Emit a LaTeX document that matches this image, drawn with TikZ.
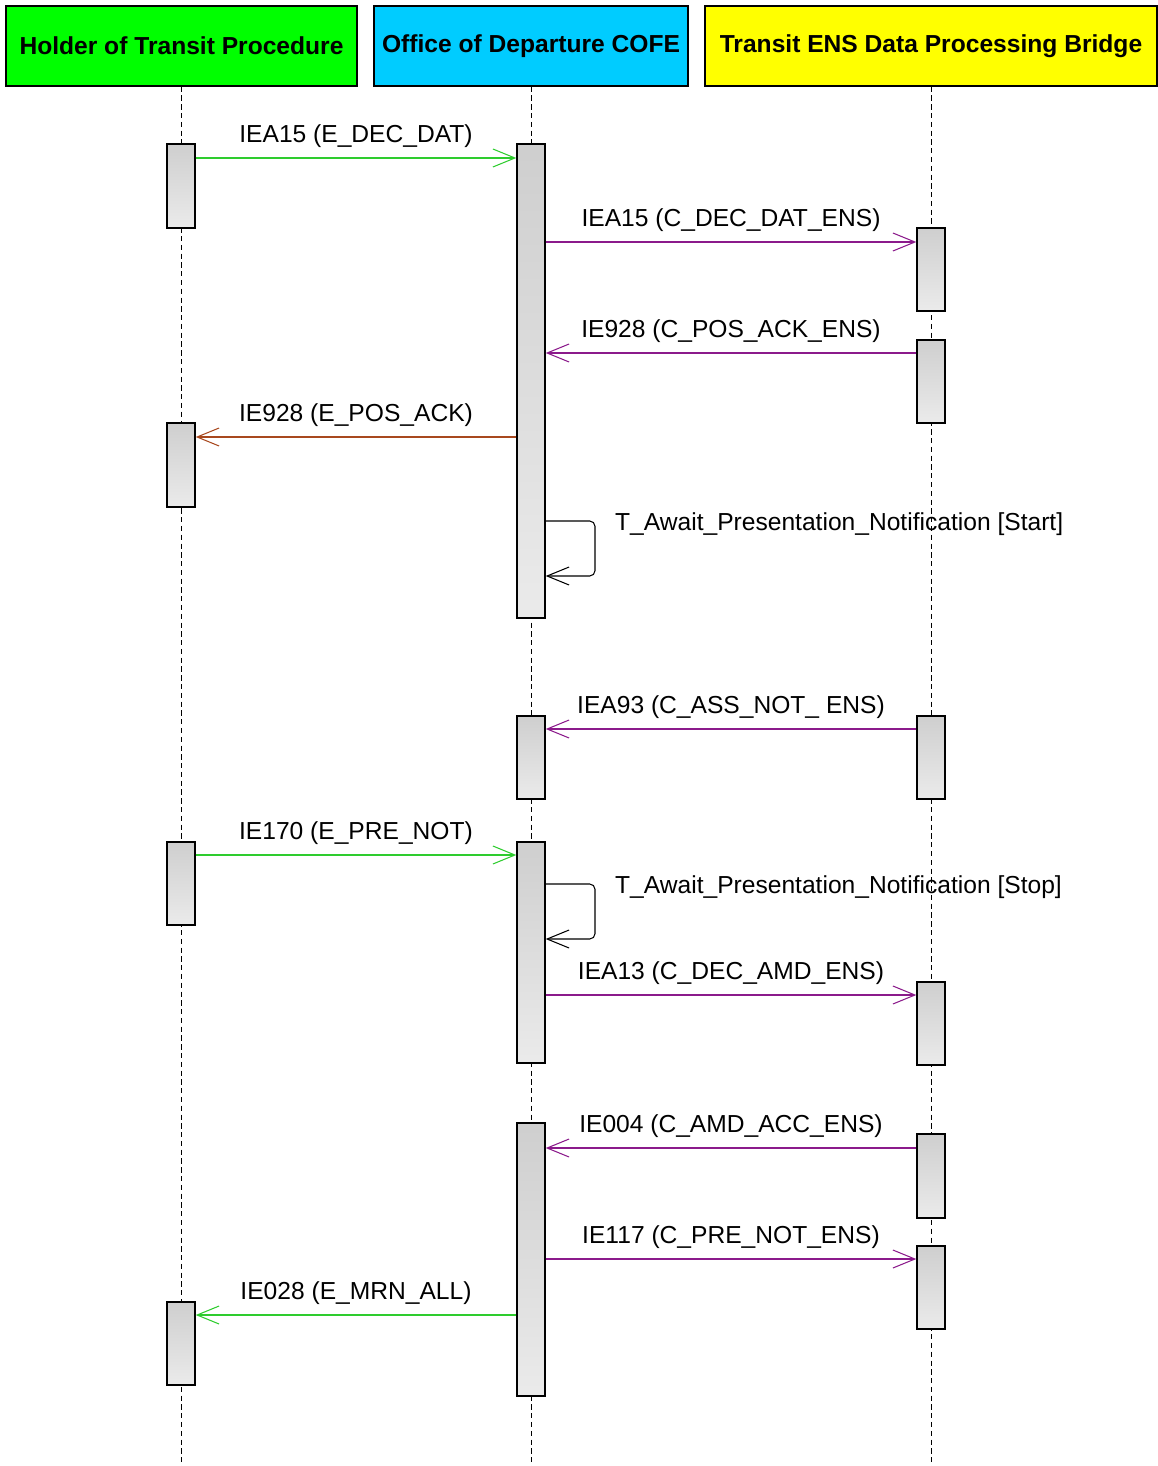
\documentclass[tikz,border=0pt]{standalone}
\usepackage{fontspec}
\setmainfont{Liberation Sans}
\usetikzlibrary{arrows.meta, positioning, fit}
\definecolor{holdergreen}{HTML}{00FF00}
\definecolor{officecyan}{HTML}{00CCFF}
\definecolor{bridgeyellow}{HTML}{FFFF00}
\definecolor{msggreen}{HTML}{2ECC2E}
\definecolor{msgpurple}{HTML}{8B1A8B}
\definecolor{msgbrown}{HTML}{A8481E}

\begin{document}
\begin{tikzpicture}[
  x=0.02cm, y=-0.02cm,
  >={Straight Barb[length=0.44cm, width=0.36cm]},
  font=\fontsize{14}{17}\selectfont,
  actor/.style={
    draw, line width=0.8pt, minimum height=1.6cm, inner sep=0pt,
    font=\fontsize{14}{17}\selectfont\bfseries
  },
  life/.style={line width=0.5pt, dash pattern=on 3pt off 2pt},
  act/.style={
    draw, line width=0.8pt, inner sep=0pt,
    top color=gray!38, bottom color=gray!16
  },
  msg/.style={->, line width=0.6pt},
  greenmsg/.style={msg, msggreen},
  purplemsg/.style={msg, msgpurple},
  brownmsg/.style={msg, msgbrown},
  selfmsg/.style={msg, black, rounded corners=3pt},
  lbl/.style={midway, above, inner sep=5.5pt, text=black},
]
\useasboundingbox (0,0) rectangle (1157,1466);

% Actors
\node[actor, fill=holdergreen, minimum width=7.02cm]  (holder) at (181.5,46) {Holder of Transit Procedure};
\node[actor, fill=officecyan, minimum width=6.28cm]   (office) at (531,46)   {Office of Departure COFE};
\node[actor, fill=bridgeyellow, minimum width=9.04cm] (bridge) at (931,46)   {Transit ENS Data Processing Bridge};

% Lifelines
\draw[life] (holder.south) -- (holder.south |- 0,1466);
\draw[life] (office.south) -- (office.south |- 0,1466);
\draw[life] (bridge.south) -- (bridge.south |- 0,1466);

% Activations of the holder
\node[act, fit={(167,144) (195,228)}]   (h1) {};
\node[act, fit={(167,423) (195,507)}]   (h2) {};
\node[act, fit={(167,842) (195,925)}]   (h3) {};
\node[act, fit={(167,1302) (195,1385)}] (h4) {};

% Activations of the office
\node[act, fit={(517,144) (545,618)}]   (o1) {};
\node[act, fit={(517,716) (545,799)}]   (o2) {};
\node[act, fit={(517,842) (545,1063)}]  (o3) {};
\node[act, fit={(517,1123) (545,1396)}] (o4) {};

% Activations of the bridge
\node[act, fit={(917,228) (945,311)}]   (b1) {};
\node[act, fit={(917,340) (945,423)}]   (b2) {};
\node[act, fit={(917,716) (945,799)}]   (b3) {};
\node[act, fit={(917,982) (945,1065)}]  (b4) {};
\node[act, fit={(917,1134) (945,1218)}] (b5) {};
\node[act, fit={(917,1246) (945,1329)}] (b6) {};

% Messages
\draw[greenmsg] (h1.east |- 0,158) -- (o1.west |- 0,158) node[lbl] {IEA15 (E\_DEC\_DAT)};
\draw[purplemsg] (o1.east |- 0,242) -- (b1.west |- 0,242) node[lbl] {IEA15 (C\_DEC\_DAT\_ENS)};
\draw[purplemsg] (b2.west |- 0,353) -- (o1.east |- 0,353) node[lbl] {IE928 (C\_POS\_ACK\_ENS)};
\draw[brownmsg] (o1.west |- 0,437) -- (h2.east |- 0,437) node[lbl] {IE928 (E\_POS\_ACK)};

\draw[selfmsg] (o1.east |- 0,521) -| (595,576) -- (o1.east |- 0,576);
\node[anchor=west] (start) at (609,524) {T\_Await\_Presentation\_Notification [Start]};

\draw[purplemsg] (b3.west |- 0,729) -- (o2.east |- 0,729) node[lbl] {IEA93 (C\_ASS\_NOT\_ ENS)};
\draw[greenmsg] (h3.east |- 0,855) -- (o3.west |- 0,855) node[lbl] {IE170 (E\_PRE\_NOT)};

\draw[selfmsg] (o3.east |- 0,884) -| (595,939) -- (o3.east |- 0,939);
\node[anchor=west] (stop) at (609,887) {T\_Await\_Presentation\_Notification [Stop]};

\draw[purplemsg] (o3.east |- 0,995) -- (b4.west |- 0,995) node[lbl] {IEA13 (C\_DEC\_AMD\_ENS)};
\draw[purplemsg] (b5.west |- 0,1148) -- (o4.east |- 0,1148) node[lbl] {IE004 (C\_AMD\_ACC\_ENS)};
\draw[purplemsg] (o4.east |- 0,1259) -- (b6.west |- 0,1259) node[lbl] {IE117 (C\_PRE\_NOT\_ENS)};
\draw[greenmsg] (o4.west |- 0,1315) -- (h4.east |- 0,1315) node[lbl] {IE028 (E\_MRN\_ALL)};

\end{tikzpicture}
\end{document}
